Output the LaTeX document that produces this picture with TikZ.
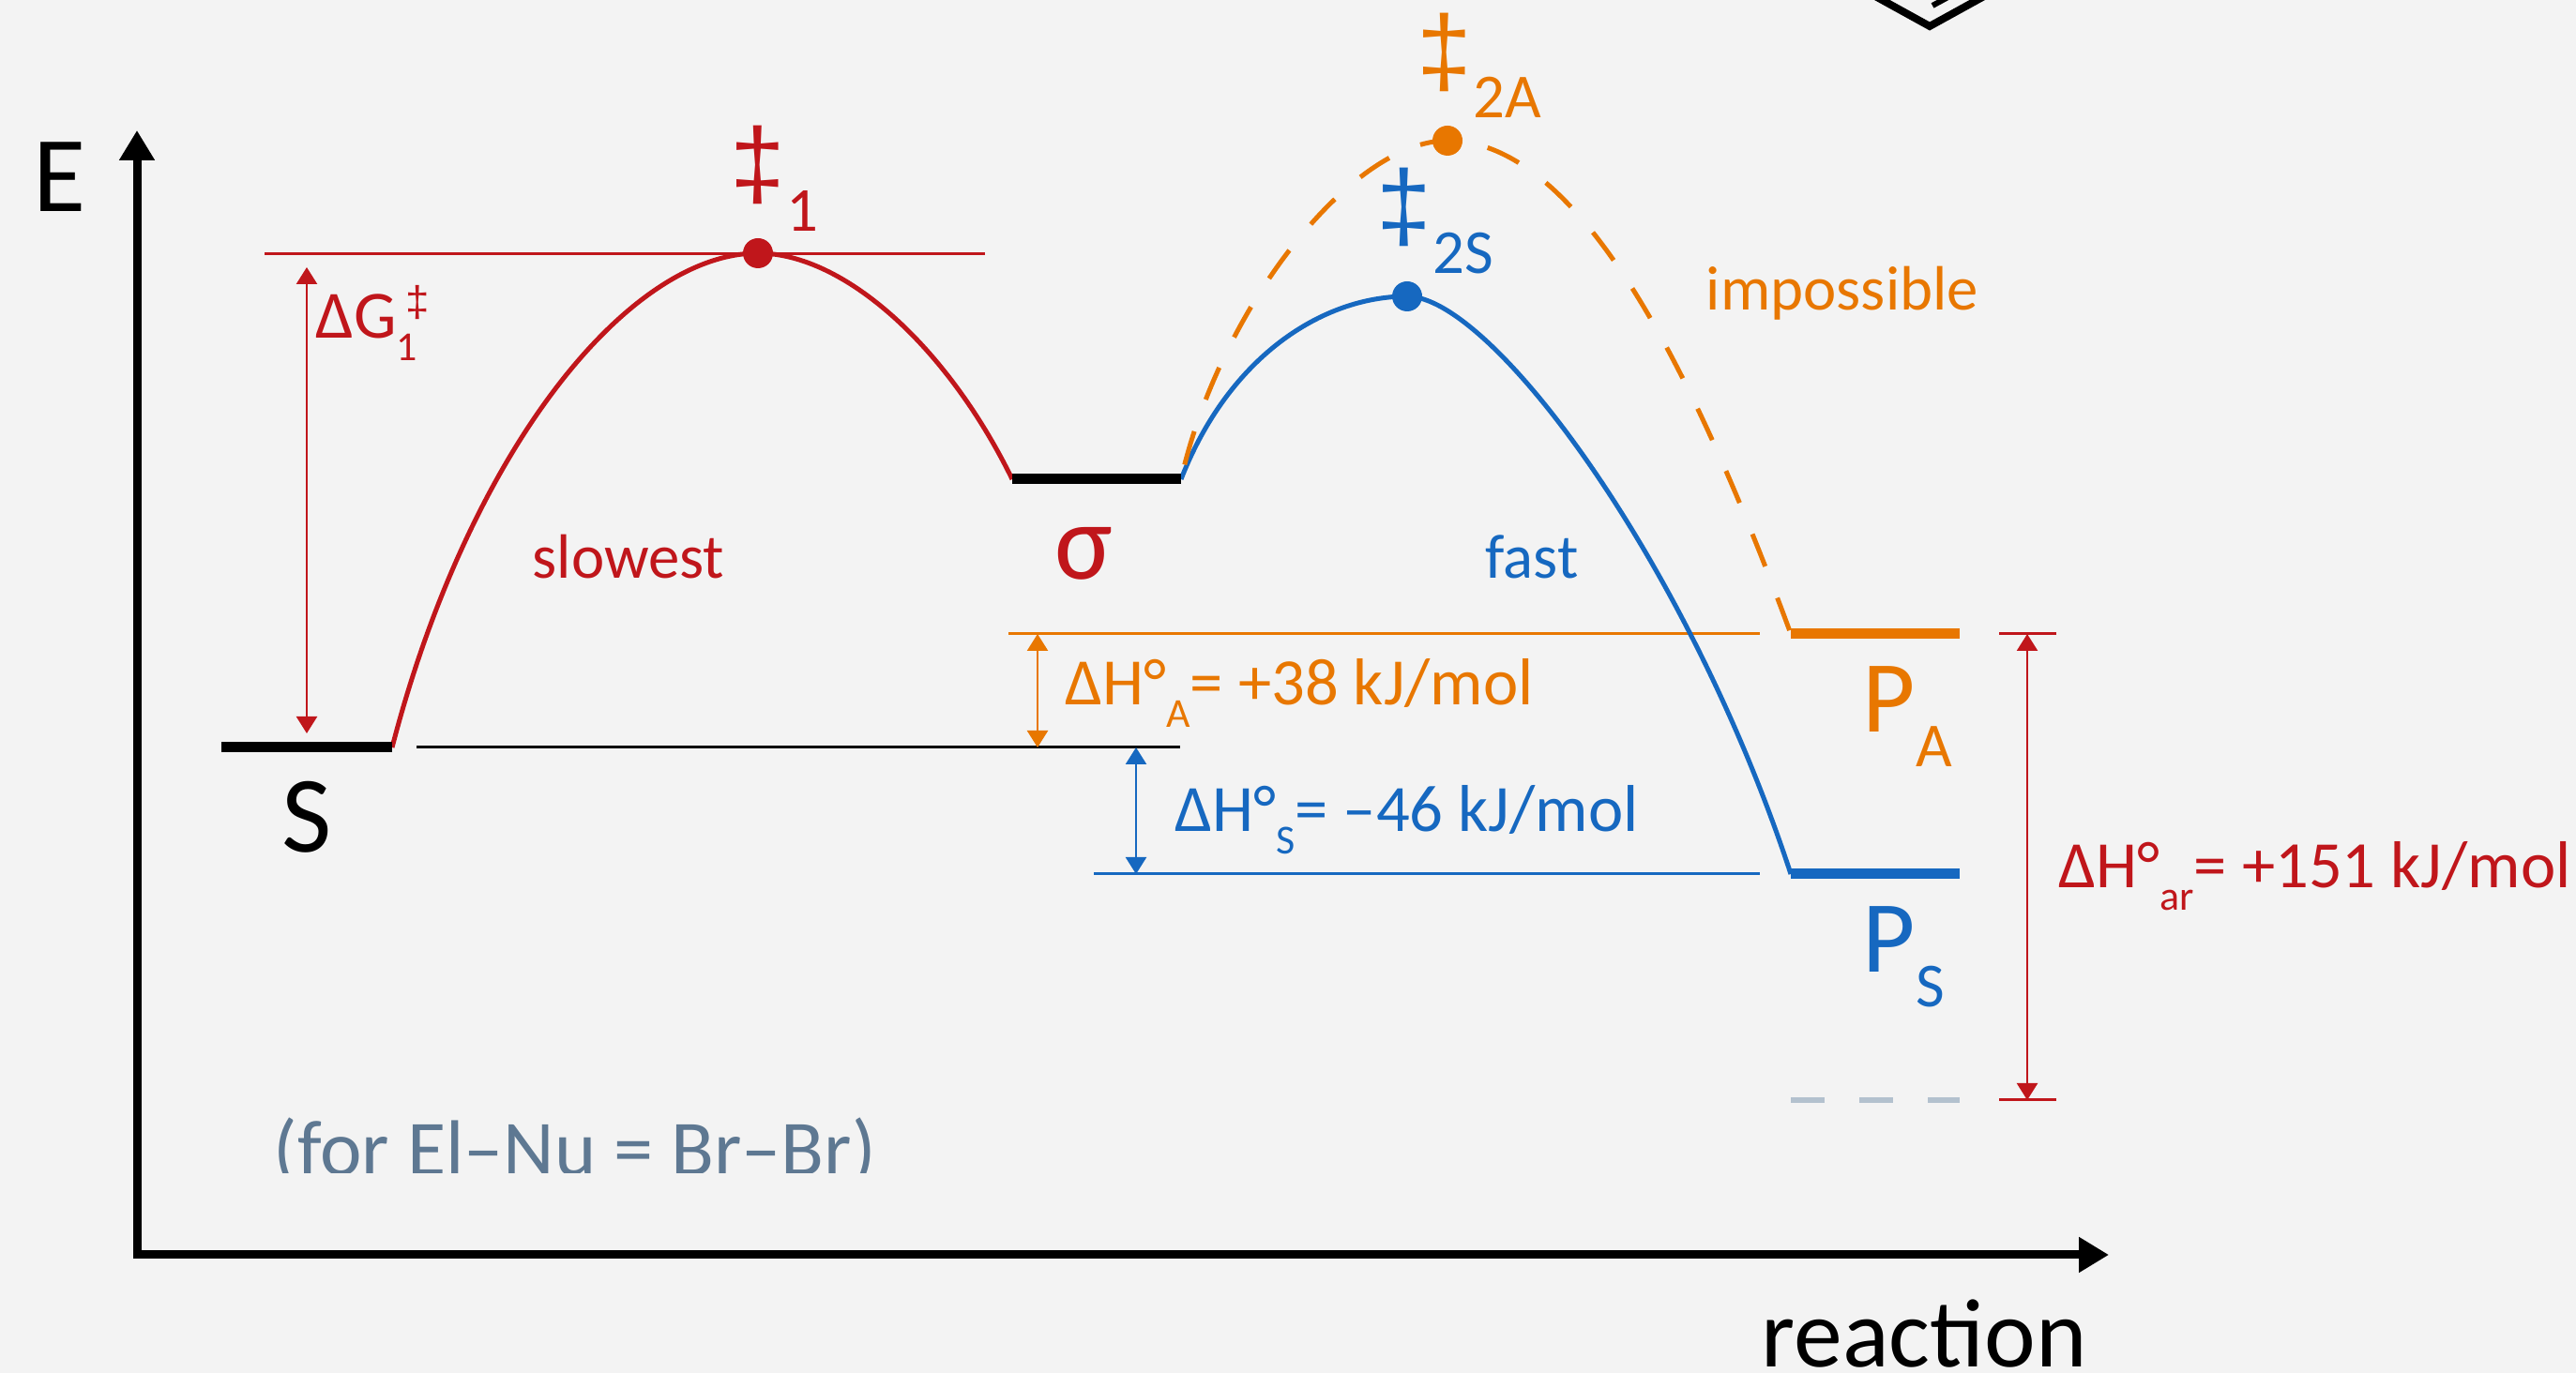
\documentclass[tikz,border=0pt]{standalone}
\usepackage{fontspec}
\setmainfont{Carlito}
\newfontfamily\ddfont{Liberation Sans}
\usepackage{tikz}
\usetikzlibrary{arrows.meta,calc,positioning}
\definecolor{slowpath}{HTML}{C0161B}
\definecolor{subpath}{HTML}{1668C0}
\definecolor{addpath}{HTML}{E87700}
\definecolor{note}{HTML}{5E7892}
\definecolor{ghost}{HTML}{B3C1CE}
\definecolor{pen}{HTML}{000000}
\definecolor{bg}{HTML}{F3F3F3}
\newcommand{\setfs}[1]{\fontsize{#1}{#1}\selectfont}
\newcommand{\lowsub}[1]{\raisebox{-6.8pt}{\setfs{12.5}#1}}
\newcommand{\prodsub}[1]{\raisebox{-10.5pt}{\setfs{19}#1}}

\begin{document}
\begin{tikzpicture}[>={Triangle[length=1.8mm,width=2.2mm]},
    enlevel/.style={line width=1.1mm}, guide/.style={line width=0.3mm},
    gap/.style={<->, line width=0.25mm}, barrier/.style={line width=0.5mm},
    every node/.style={inner sep=0pt}]
  \fill[bg] (0,0) rectangle (27.46,14.64);
  \useasboundingbox (0,0) rectangle (27.46,14.64);

  % axes
  \draw[line width=0.9mm, {Triangle[length=3.2mm,width=3.6mm]}-{Triangle[length=3.2mm,width=3.6mm]}] (1.46,13.25) |- (22.48,1.26);
  \node (elbl) at (0.64,12.75) {\setfs{32.7}E};
  \node[anchor=base] (xlbl) at (20.51,0.06) {\setfs{29.5}reaction};

  % levels and transition states
  \coordinate (S-l) at (2.36,6.67); \coordinate (S-r) at (4.18,6.67);
  \coordinate (sig-l) at (10.79,9.53); \coordinate (sig-r) at (12.59,9.53);
  \coordinate (PA-l) at (19.09,7.88); \coordinate (PA-r) at (20.89,7.88);
  \coordinate (PS-l) at (19.09,5.32); \coordinate (PS-r) at (20.89,5.32);
  \coordinate (ts1) at (8.08,11.94); \coordinate (ts2s) at (15.00,11.48); \coordinate (ts2a) at (15.43,13.14);

  % guide lines
  \draw[guide, slowpath] (2.82,11.93) -- (10.50,11.93);
  \draw[guide, pen] (4.44,6.67) -- (12.58,6.67);
  \draw[guide, addpath] (10.75,7.88) -- (18.76,7.88);
  \draw[guide, subpath] (11.66,5.32) -- (18.76,5.32);
  \draw[guide, slowpath] (21.31,7.88) -- (21.92,7.88) (21.31,2.91) -- (21.92,2.91);

  % profiles
  \draw[barrier, slowpath] (S-r) .. controls (5.00,9.84) and (6.70,11.94) .. (ts1) .. controls (9.00,11.94) and (10.10,10.94) .. (sig-l);
  \draw[barrier, subpath] (sig-r) .. controls (13.10,10.84) and (14.10,11.48) .. (ts2s) .. controls (15.90,11.48) and (18.00,8.64) .. (PS-l);
  \draw[barrier, addpath, dash pattern=on 3.7mm off 3.6mm, dash phase=5.7mm] (sig-r) .. controls (13.00,11.34) and (14.40,13.14) .. (ts2a) .. controls (16.80,13.14) and (18.00,10.84) .. (PA-l);

  \draw[enlevel, pen] (S-l) -- (S-r);
  \draw[enlevel, pen] (sig-l) -- (sig-r);
  \draw[enlevel, addpath] (PA-l) -- (PA-r);
  \draw[enlevel, subpath] (PS-l) -- (PS-r);
  \draw[line width=0.6mm, ghost, dash pattern=on 3.6mm off 3.7mm] (19.09,2.91) -- (20.89,2.91);

  \fill[slowpath] (ts1) circle (0.16);
  \fill[subpath] (ts2s) circle (0.16);
  \fill[addpath] (ts2a) circle (0.16);

  % energy differences
  \draw[gap, slowpath] (3.27,6.82) -- (3.27,11.79);
  \draw[gap, addpath] (11.06,6.67) -- (11.06,7.88);
  \draw[gap, subpath] (12.11,5.32) -- (12.11,6.67);
  \draw[gap, slowpath] (21.61,2.91) -- (21.61,7.88);

  % labels
  \node[slowpath] (dd1) at (8.08,12.88) {\ddfont\setfs{30}‡};
  \node[slowpath, anchor=base west] (dd1sub) at (8.38,12.17) {\setfs{19}1};
  \node[addpath] (dd2a) at (15.40,14.08) {\ddfont\setfs{30}‡};
  \node[addpath, anchor=base west] (dd2asub) at (15.70,13.38) {\setfs{19}2A};
  \node[subpath] (dd2s) at (14.97,12.43) {\ddfont\setfs{30}‡};
  \node[subpath, anchor=base west] (dd2ssub) at (15.27,11.72) {\setfs{19}2S};
  \node[slowpath, anchor=base west] (dG) at (3.36,11.03) {\setfs{20.5}ΔG\lowsub{1}};
  \node[slowpath] (dGdd) at (4.45,11.41) {\ddfont\setfs{13}‡};
  \node[slowpath, anchor=base] (slowlbl) at (6.70,8.47) {\setfs{19}slowest};
  \node[subpath, anchor=base] (fastlbl) at (16.33,8.47) {\setfs{19}fast};
  \node[addpath, anchor=base] (implbl) at (19.64,11.33) {\setfs{19}impossible};
  \node[slowpath, anchor=base] (siglbl) at (11.55,8.46) {\setfs{33}σ};
  \node[pen, anchor=base] (Slbl) at (3.27,5.55) {\setfs{33}S};
  \node[addpath, anchor=base west] (PAlbl) at (19.85,6.83) {\setfs{31}P\prodsub{A}};
  \node[subpath, anchor=base west] (PSlbl) at (19.85,4.27) {\setfs{31}P\prodsub{S}};
  \node[addpath, anchor=base west] (dHA) at (11.35,7.12) {\setfs{20.1}ΔH°\lowsub{A}= +38 kJ/mol};
  \node[subpath, anchor=base west] (dHS) at (12.52,5.77) {\setfs{20.1}ΔH°\lowsub{S}= –46 kJ/mol};
  \node[slowpath, anchor=base west] (dHar) at (21.94,5.17) {\setfs{20.1}ΔH°\lowsub{ar}= +151 kJ/mol};
  \begin{scope}
    \clip (0,2.13) rectangle (27.46,14.64);
    \node[note, anchor=base west] (notelbl) at (2.91,2.10) {\setfs{24}(for El–Nu = Br–Br)};
  \end{scope}

  % ring fragment at the top edge
  \draw[pen, line width=0.8mm] (19.70,14.84) -- (20.57,14.36) -- (21.44,14.84);
  \draw[pen, line width=0.6mm] (20.60,14.58) -- (20.95,14.77);
\end{tikzpicture}
\end{document}
